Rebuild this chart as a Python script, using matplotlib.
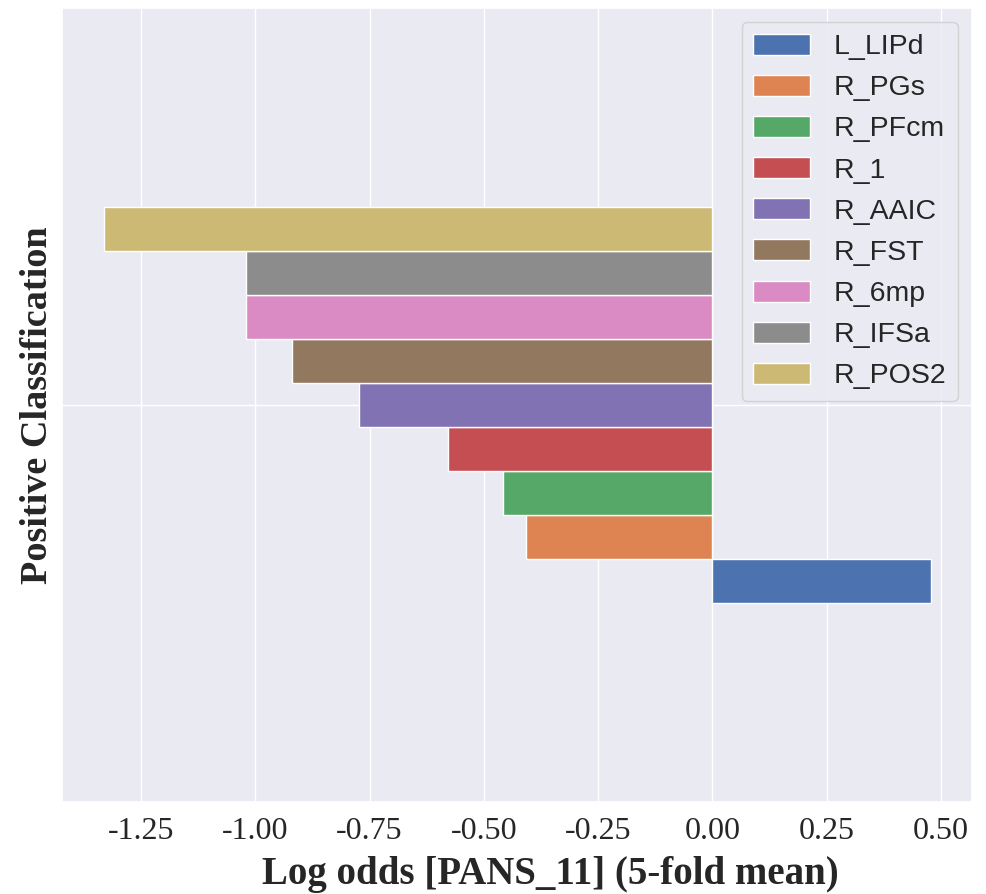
import numpy as np
import matplotlib
matplotlib.use("Agg")
import matplotlib.pyplot as plt
import seaborn as sns

regions = ["L_LIPd", "R_PGs", "R_PFcm", "R_1", "R_AAIC", "R_FST", "R_6mp", "R_IFSa", "R_POS2"]
log_odds = [0.478, -0.408, -0.459, -0.579, -0.773, -0.919, -1.020, -1.020, -1.332]

sns.set_theme(style="darkgrid", palette="deep")
colors = sns.color_palette("deep", len(regions))

fig = plt.figure(figsize=(9.87, 8.94), dpi=100)
ax = fig.add_axes([0.063, 0.103, 0.922, 0.888])

# one group of bars, stacked inside the single category slot like pandas barh
n = len(regions)
h = 0.5 / n
for i, (name, val) in enumerate(zip(regions, log_odds)):
    y = -0.25 + h * (i + 0.5)
    ax.barh(y, val, height=h, color=colors[i], edgecolor="white", linewidth=1, label=name)

ax.set_ylim(-0.5, 0.5)
ax.set_yticks([0])
ax.set_yticklabels([""])
ax.set_xticks([-1.25, -1.0, -0.75, -0.5, -0.25, 0.0, 0.25, 0.5])
ax.set_xticklabels(["%.2f" % t for t in ax.get_xticks()], family="Liberation Serif", fontsize=23)
ax.tick_params(axis="x", pad=5)

ax.set_xlabel("Log odds [PANS_11] (5-fold mean)", family="Liberation Serif",
              fontweight="bold", fontsize=28)
ax.xaxis.set_label_coords(0.536, -0.068)
ax.set_ylabel("Positive Classification", family="Liberation Serif",
              fontweight="bold", fontsize=27.5, labelpad=-4)

handles, labels = ax.get_legend_handles_labels()
ax.legend(handles, labels, loc="upper right", prop={"family": "Liberation Sans", "size": 20.5},
          borderaxespad=0.5, handlelength=2.0, handleheight=0.75, labelspacing=0.52,
          handletextpad=0.84)

fig.savefig("out.png", dpi=100)
